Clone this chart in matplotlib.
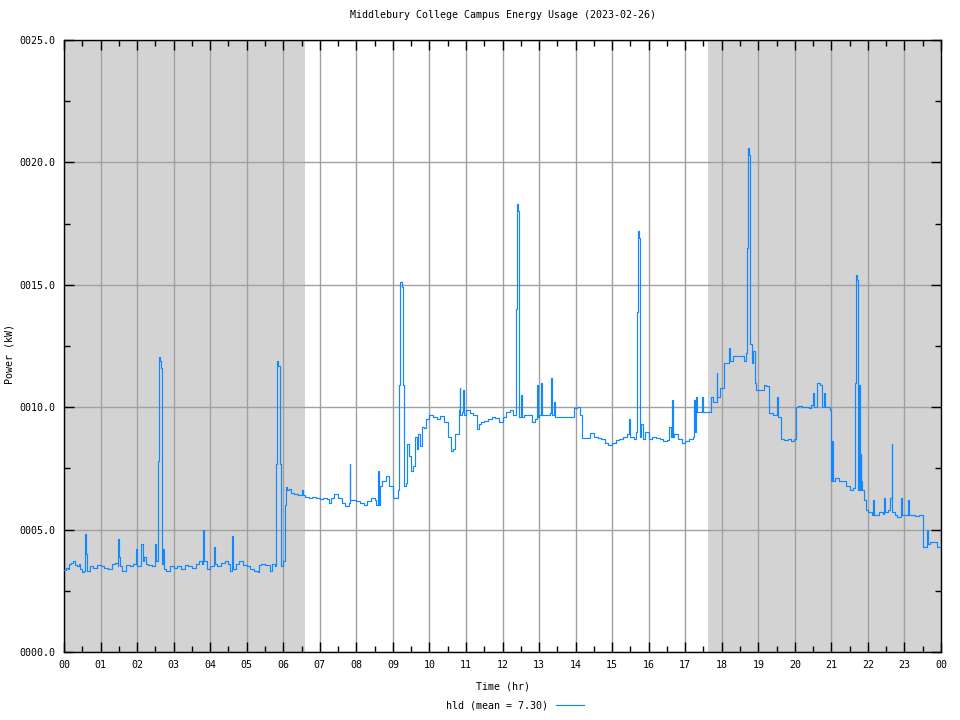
import matplotlib
matplotlib.use("Agg")
import matplotlib.pyplot as plt
from matplotlib.ticker import MultipleLocator, FuncFormatter

title = "Middlebury College Campus Energy Usage (2023-02-26)"
series_name = "hld"
mean_value = 7.30
night_spans = [(0.0, 6.6), (17.62, 24.0)]
x_tick_labels = ["%02d" % (h % 24) for h in range(25)]

hours = [
    0.00, 0.05, 0.10, 0.15, 0.20, 0.25, 0.30, 0.35, 0.40, 0.45, 0.50, 0.55, 0.58, 0.60, 0.62,
    0.70, 0.80, 0.90, 1.00, 1.10, 1.20, 1.30, 1.40, 1.47, 1.49, 1.51, 1.53, 1.60, 1.70, 1.80,
    1.90, 1.98, 2.00, 2.10, 2.12, 2.15, 2.20, 2.25, 2.30, 2.40, 2.48, 2.50, 2.53, 2.58, 2.60,
    2.63, 2.66, 2.68, 2.71, 2.73, 2.80, 2.90, 3.00, 3.10, 3.20, 3.30, 3.40, 3.50, 3.60, 3.70,
    3.78, 3.81, 3.83, 3.90, 4.00, 4.10, 4.11, 4.13, 4.20, 4.30, 4.40, 4.50, 4.55, 4.60, 4.62,
    4.70, 4.80, 4.90, 5.00, 5.10, 5.20, 5.30, 5.35, 5.40, 5.50, 5.60, 5.65, 5.70, 5.78, 5.80,
    5.84, 5.87, 5.90, 5.93, 6.00, 6.05, 6.07, 6.10, 6.15, 6.20, 6.30, 6.40, 6.50, 6.55, 6.60,
    6.70, 6.80, 6.90, 7.00, 7.10, 7.20, 7.25, 7.30, 7.40, 7.50, 7.60, 7.70, 7.80, 7.82, 7.84,
    7.90, 8.00, 8.10, 8.20, 8.30, 8.40, 8.50, 8.55, 8.60, 8.62, 8.65, 8.70, 8.80, 8.90, 9.00,
    9.10, 9.15, 9.18, 9.20, 9.24, 9.27, 9.30, 9.35, 9.40, 9.45, 9.50, 9.55, 9.60, 9.65, 9.70,
    9.75, 9.80, 9.85, 9.90, 10.00, 10.10, 10.20, 10.30, 10.40, 10.50, 10.60, 10.65, 10.70, 10.80, 10.83,
    10.85, 10.90, 10.93, 10.95, 11.00, 11.10, 11.20, 11.30, 11.35, 11.40, 11.50, 11.60, 11.70, 11.80, 11.90,
    12.00, 12.10, 12.20, 12.30, 12.38, 12.40, 12.43, 12.46, 12.50, 12.52, 12.60, 12.70, 12.80, 12.90, 12.95,
    12.97, 13.00, 13.05, 13.07, 13.20, 13.30, 13.33, 13.35, 13.40, 13.45, 13.60, 13.80, 13.95, 14.05, 14.12,
    14.18, 14.30, 14.40, 14.50, 14.60, 14.70, 14.80, 14.90, 15.00, 15.10, 15.20, 15.30, 15.40, 15.45, 15.50,
    15.60, 15.65, 15.68, 15.70, 15.73, 15.76, 15.80, 15.85, 15.90, 16.00, 16.10, 16.20, 16.30, 16.40, 16.50,
    16.55, 16.60, 16.64, 16.66, 16.70, 16.80, 16.90, 17.00, 17.10, 17.20, 17.25, 17.27, 17.30, 17.33, 17.40,
    17.46, 17.48, 17.55, 17.65, 17.70, 17.75, 17.86, 17.88, 17.95, 18.05, 18.15, 18.20, 18.22, 18.30, 18.40,
    18.50, 18.60, 18.66, 18.70, 18.72, 18.75, 18.78, 18.82, 18.86, 18.90, 18.95, 19.05, 19.15, 19.22, 19.30,
    19.40, 19.50, 19.52, 19.55, 19.62, 19.70, 19.80, 19.90, 19.98, 20.02, 20.10, 20.20, 20.30, 20.40, 20.45,
    20.50, 20.53, 20.60, 20.70, 20.75, 20.80, 20.83, 20.95, 21.00, 21.02, 21.05, 21.10, 21.20, 21.30, 21.40,
    21.50, 21.60, 21.65, 21.68, 21.71, 21.73, 21.76, 21.78, 21.80, 21.82, 21.85, 21.90, 21.95, 22.00, 22.10,
    22.15, 22.17, 22.30, 22.40, 22.45, 22.47, 22.55, 22.60, 22.65, 22.67, 22.75, 22.80, 22.90, 22.92, 23.00,
    23.10, 23.12, 23.20, 23.30, 23.40, 23.50, 23.52, 23.60, 23.62, 23.64, 23.70, 23.80, 23.90, 23.98, 24.00,
]

power_kw = [
    3.35, 3.45, 3.40, 3.60, 3.65, 3.70, 3.55, 3.50, 3.60, 3.40, 3.25, 3.30, 4.80, 4.00, 3.30,
    3.50, 3.45, 3.55, 3.50, 3.45, 3.40, 3.60, 3.65, 3.50, 4.60, 3.90, 3.50, 3.30, 3.55, 3.50,
    3.60, 4.20, 3.50, 3.60, 4.40, 3.70, 3.90, 3.60, 3.55, 3.50, 3.80, 4.40, 3.70, 7.80, 12.05,
    11.90, 11.60, 3.60, 4.20, 3.40, 3.30, 3.50, 3.45, 3.50, 3.40, 3.55, 3.50, 3.45, 3.60, 3.70,
    3.60, 5.00, 3.70, 3.40, 3.50, 3.60, 4.30, 3.60, 3.50, 3.65, 3.70, 3.60, 3.30, 4.75, 3.40,
    3.60, 3.70, 3.55, 3.50, 3.40, 3.30, 3.25, 3.55, 3.60, 3.55, 3.55, 3.30, 3.60, 3.50, 7.70,
    11.90, 11.70, 7.70, 3.50, 3.70, 6.00, 6.75, 6.60, 6.65, 6.50, 6.45, 6.40, 6.60, 6.40, 6.35,
    6.30, 6.35, 6.30, 6.25, 6.30, 6.25, 6.10, 6.30, 6.45, 6.30, 6.10, 5.95, 6.10, 7.70, 6.20,
    6.20, 6.15, 6.10, 6.00, 6.15, 6.30, 6.20, 6.00, 7.40, 6.00, 6.80, 7.00, 7.20, 6.80, 6.30,
    6.30, 6.60, 10.90, 15.10, 14.90, 10.90, 6.80, 6.90, 8.50, 8.00, 7.40, 7.60, 8.80, 8.30, 8.90,
    8.40, 9.20, 9.15, 9.50, 9.70, 9.60, 9.50, 9.65, 9.40, 8.80, 8.20, 8.30, 8.90, 9.90, 10.80,
    9.70, 9.80, 10.70, 9.70, 9.90, 9.75, 9.70, 9.10, 9.30, 9.40, 9.45, 9.50, 9.60, 9.55, 9.40,
    9.60, 9.80, 9.90, 9.70, 14.00, 18.30, 18.00, 9.60, 10.50, 9.60, 9.70, 9.70, 9.40, 9.50, 10.90,
    9.60, 9.70, 11.00, 9.70, 9.70, 9.75, 11.20, 9.70, 10.20, 9.60, 9.60, 9.60, 9.95, 10.00, 9.70,
    8.75, 8.75, 8.95, 8.80, 8.75, 8.70, 8.55, 8.45, 8.55, 8.65, 8.70, 8.80, 8.90, 9.50, 8.80,
    8.70, 9.00, 13.90, 17.20, 16.90, 8.80, 9.30, 8.70, 9.00, 8.70, 8.80, 8.75, 8.70, 8.60, 8.65,
    9.20, 8.80, 10.30, 8.80, 8.90, 8.70, 8.55, 8.60, 8.70, 8.80, 10.30, 9.00, 10.40, 9.80, 9.80,
    10.40, 9.80, 9.80, 9.80, 10.40, 10.20, 11.40, 10.40, 10.80, 11.80, 11.80, 12.40, 11.90, 12.10, 12.10,
    12.10, 11.90, 12.20, 16.50, 20.60, 20.30, 12.60, 11.80, 12.30, 11.00, 10.70, 10.70, 10.90, 10.85, 9.75,
    9.70, 9.70, 10.40, 9.60, 8.70, 8.65, 8.70, 8.60, 8.70, 10.00, 10.05, 10.00, 10.00, 9.95, 10.10,
    10.60, 10.00, 11.00, 10.90, 10.00, 10.60, 10.00, 9.90, 7.00, 8.60, 7.00, 7.10, 7.00, 7.00, 6.80,
    6.60, 6.70, 11.00, 15.40, 15.20, 6.60, 10.90, 6.60, 8.10, 7.00, 6.60, 6.20, 5.80, 5.70, 5.60,
    6.20, 5.60, 5.70, 5.65, 6.30, 5.70, 5.80, 6.30, 8.50, 5.70, 5.60, 5.50, 6.30, 5.60, 5.60,
    6.20, 5.60, 5.60, 5.55, 5.60, 5.60, 4.30, 4.30, 5.00, 4.40, 4.50, 4.50, 4.30, 4.30, 4.90,
]

W, H = 960, 720
fig = plt.figure(figsize=(W / 100, H / 100), dpi=100)
ax = fig.add_axes([64 / W, 1 - 652 / H, (941 - 64) / W, (652 - 40) / H])

mono = "DejaVu Sans Mono"
fs = 7.2

for a, b in night_spans:
    ax.axvspan(a, b, color="#d3d3d3", lw=0, zorder=0)

ax.plot(hours, power_kw, color="#1188ff", lw=0.85, drawstyle="steps-post",
        zorder=3, label="%s (mean = %.2f)" % (series_name, mean_value))

ax.set_xlim(0, 24)
ax.set_ylim(0, 25)
ax.xaxis.set_minor_locator(MultipleLocator(0.5))
ax.yaxis.set_major_locator(MultipleLocator(5))
ax.yaxis.set_minor_locator(MultipleLocator(2.5))
ax.set_xticks(range(25))
ax.set_xticklabels(x_tick_labels)
ax.yaxis.set_major_formatter(FuncFormatter(lambda v, p: "%06.1f" % v))

ax.grid(True, which="major", color="#a0a0a0", lw=1.0, zorder=1)
ax.set_axisbelow(True)
ax.tick_params(which="major", direction="in", length=7, width=1, top=True, right=True,
               labelsize=fs, color="black", pad=6)
ax.tick_params(which="minor", direction="in", length=4, width=1, top=True, right=True)
for lab in ax.get_xticklabels() + ax.get_yticklabels():
    lab.set_fontfamily(mono)
for s in ax.spines.values():
    s.set_linewidth(1.0)

ax.set_title(title, fontfamily=mono, fontsize=fs, pad=16)
ax.set_xlabel("Time (hr)", fontfamily=mono, fontsize=fs, labelpad=8)
fig.text(10 / W, 1 - 354 / H, "Power (kW)", rotation=90, ha="center", va="center",
         fontfamily=mono, fontsize=fs)

leg = fig.legend(loc="center", bbox_to_anchor=(515 / W, 1 - 705 / H), frameon=False,
                 markerfirst=False, handlelength=2.8, prop={"family": mono, "size": fs})

fig.savefig("out.png", dpi=100)
